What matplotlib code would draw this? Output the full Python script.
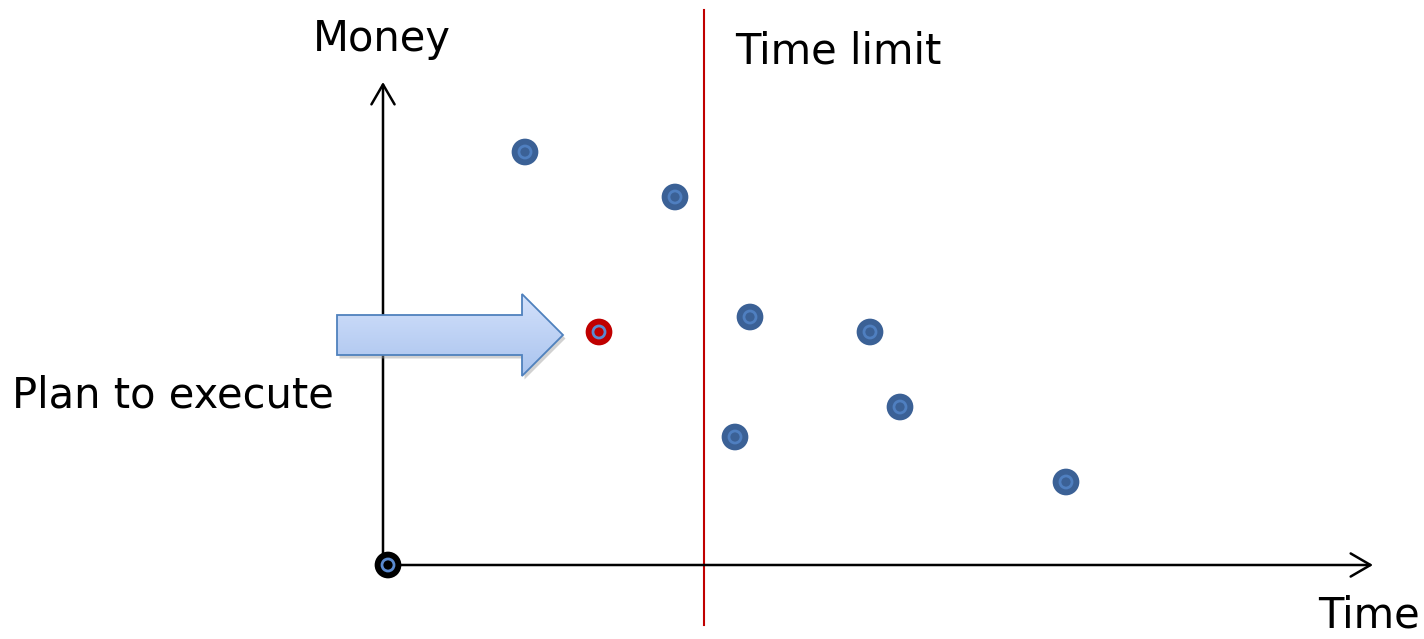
import numpy as np
import matplotlib
matplotlib.use("Agg")
import matplotlib.pyplot as plt
from matplotlib.path import Path
from matplotlib.patches import PathPatch

# Candidate plans: time needed vs. money earned
plan_time = [13.7, 28.7, 36.2, 48.2, 51.2, 34.7, 67.8]
plan_money = [41.3, 36.8, 24.8, 23.3, 15.8, 12.8, 8.3]
chosen_time = [21.1]
chosen_money = [23.3]
time_limit = 31.6

axis_labels = ["Money", "Time"]
limit_label = "Time limit"
chosen_label = "Plan to execute"

W, H, DPI = 1424, 639, 100
fig = plt.figure(figsize=(W / DPI, H / DPI), dpi=DPI)
ax = fig.add_axes([0, 0, 1, 1])
ax.set_xlim(-38.8, 103.6)
ax.set_ylim(-7.4, 56.5)
ax.axis("off")

plt.rcParams["font.family"] = ["DejaVu Sans"]

# axes with open arrowheads
arrow_kw = dict(arrowstyle="->,head_length=0.55,head_width=0.32", lw=1.8,
                color="black", mutation_scale=26, shrinkA=0, shrinkB=0)
ax.annotate("", xy=(-0.5, 48.3), xytext=(-0.5, 0), arrowprops=arrow_kw)
ax.annotate("", xy=(98.5, 0), xytext=(0, 0), arrowprops=arrow_kw)

# time limit
ax.plot([time_limit, time_limit], [-6.0, 55.5], color="#c00000", lw=1.5)


def target(x, y, face, ring="#4f7fc0", center=None, z=5):
    center = center or face
    ax.scatter(x, y, s=370, c=face, edgecolors="none", zorder=z)
    ax.scatter(x, y, s=75, facecolors="none", edgecolors=ring, linewidths=2.0, zorder=z + 1)
    ax.scatter(x, y, s=6, c=center, edgecolors="none", zorder=z + 2)


target(plan_time, plan_money, "#3b6196")
target(chosen_time, chosen_money, "#c00000", ring="#5a8ad0")
target([0], [0], "#000000", ring="#5a8ad0", center="#000000", z=8)

# block arrow pointing to the chosen plan
x0, xb, xt = -5.1, 13.4, 17.5
yb0, yb1, yh0, yh1, ym = 21.0, 25.0, 18.9, 27.1, 23.0
verts = [(x0, yb0), (x0, yb1), (xb, yb1), (xb, yh1), (xt, ym),
         (xb, yh0), (xb, yb0), (x0, yb0)]
codes = [Path.MOVETO] + [Path.LINETO] * 6 + [Path.CLOSEPOLY]
shape = Path(verts, codes)

shadow = PathPatch(Path([(vx + 0.25, vy - 0.35) for vx, vy in verts], codes),
                   facecolor="#9a9a9a", edgecolor="none", alpha=0.45, zorder=9)
ax.add_patch(shadow)
grad = np.linspace(0, 1, 256).reshape(-1, 1)
cmap = matplotlib.colors.LinearSegmentedColormap.from_list("g", ["#a9c3ee", "#d3e1fb"])
img = ax.imshow(grad, cmap=cmap, extent=(x0, xt, yh0, yh1), origin="lower",
                aspect="auto", zorder=10)
body = PathPatch(shape, facecolor="none", edgecolor="#4f81bd", lw=1.3, zorder=11)
ax.add_patch(body)
img.set_clip_path(body)

# labels
ax.text(-0.6, 52.6, axis_labels[0], fontsize=30, ha="center", va="center")
ax.text(93.0, -5.0, axis_labels[1], fontsize=30, ha="left", va="center")
ax.text(34.7, 51.3, limit_label, fontsize=30, ha="left", va="center")
ax.text(-37.6, 16.9, chosen_label, fontsize=30, ha="left", va="center")

fig.savefig("out.png", dpi=DPI)
